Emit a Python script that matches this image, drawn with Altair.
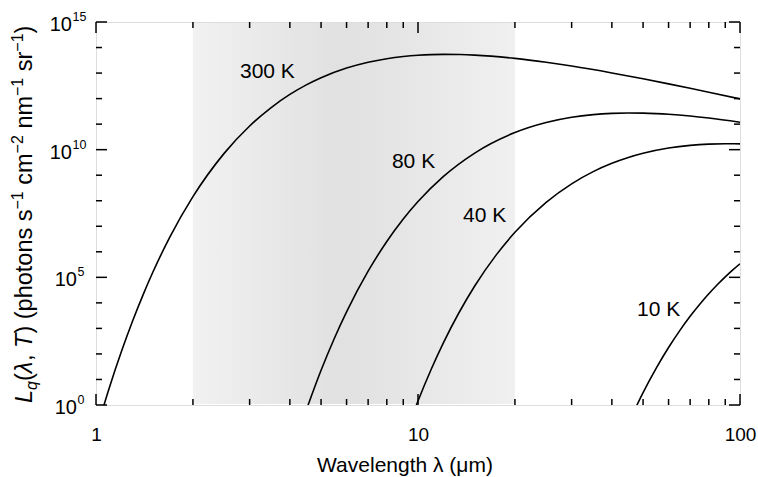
import altair as alt
import pandas as pd

W, H = 644, 383
FONT = "Liberation Sans"

# ---- curve values (wavelength in um, log10 of L_q) ----
wl_300 = [1.0, 1.1, 1.2, 1.3, 1.4, 1.5, 1.7, 2, 2.5, 3, 3.5, 4, 4.5, 5, 6, 7, 8, 9, 10,
          11, 12, 13.5, 15, 20, 25, 30, 40, 50, 60, 70, 80, 100]
lg_300 = [-1.05, 0.677, 2.103, 3.299, 4.315, 5.188, 6.604, 8.160, 9.855, 10.927, 11.651,
          12.163, 12.536, 12.816, 13.194, 13.423, 13.564, 13.649, 13.699, 13.724, 13.733,
          13.726, 13.704, 13.574, 13.422, 13.274, 13.005, 12.775, 12.577, 12.405, 12.252,
          11.989]
wl_80 = [4.5, 5, 5.5, 6, 7, 8, 9, 10, 12, 15, 20, 25, 30, 35, 40, 45, 50, 55, 60, 70, 80, 100]
lg_80 = [-0.193, 1.360, 2.615, 3.647, 5.240, 6.403, 7.282, 7.967, 8.952, 9.867, 10.669,
         11.062, 11.268, 11.373, 11.422, 11.438, 11.432, 11.413, 11.386, 11.317, 11.238,
         11.076]
wl_40 = [9, 10, 11, 12, 15, 17.5, 20, 25, 30, 35, 40, 45, 50, 60, 70, 80, 90, 100]
lg_40 = [-1.396, 0.156, 1.411, 2.443, 4.660, 5.879, 6.763, 7.937, 8.663, 9.139, 9.465,
         9.694, 9.858, 10.063, 10.169, 10.218, 10.233, 10.228]
wl_10 = [45, 50, 55, 60, 65, 70, 75, 80, 85, 90, 95, 100]
lg_10 = [-0.721, 0.485, 1.455, 2.251, 2.913, 3.472, 3.946, 4.355, 4.709, 5.018, 5.290, 5.529]

curve_names = ["300 K", "80 K", "40 K", "10 K"]
label_x = [2.8, 8.3, 13.8, 47.9]
label_y = [1.1e13, 3.3e9, 2.5e7, 5.2e3]

band = [2, 20]
x_major = [1, 10, 100]
x_minor = [2, 3, 4, 5, 6, 7, 8, 9, 20, 30, 40, 50, 60, 70, 80, 90]
y_major = [1, 1e5, 1e10, 1e15]
y_minor = [1e1, 1e2, 1e3, 1e4, 1e6, 1e7, 1e8, 1e9, 1e11, 1e12, 1e13, 1e14]
y_label_exp = ["0", "5", "10", "15"]

rows = []
for name, wl, lg in zip(curve_names, [wl_300, wl_80, wl_40, wl_10], [lg_300, lg_80, lg_40, lg_10]):
    for w, l in zip(wl, lg):
        rows.append({"T": name, "wl": w, "L": 10 ** l})
curves = pd.DataFrame(rows)
labels = pd.DataFrame({"T": curve_names, "lx": label_x, "ly": label_y})

xs = alt.Scale(type="log", domain=[1, 100], nice=False)
ys = alt.Scale(type="log", domain=[1, 1e15], nice=False)
xaxis = alt.Axis(values=x_major, format="d", ticks=False, domain=False, grid=False, title=None,
                 labelFontSize=19, labelFont=FONT, labelColor="black", labelPadding=20,
                 labelFlush=False)

layers = []

# shaded band
grad = alt.LinearGradient(
    gradient="linear",
    stops=[alt.GradientStop(color="#f1f1f1", offset=0),
           alt.GradientStop(color="#e1e1e1", offset=0.45),
           alt.GradientStop(color="#e4e4e4", offset=0.6),
           alt.GradientStop(color="#f0f0f0", offset=1)],
    x1=0, x2=1, y1=0, y2=0)
layers.append(alt.Chart(pd.DataFrame({"x0": [band[0]], "x1": [band[1]]})).mark_rect(fill=grad).encode(
    x=alt.X("x0:Q", scale=xs, axis=xaxis), x2="x1:Q",
    y=alt.value(1), y2=alt.value(H - 1)))

# curves
layers.append(alt.Chart(curves).mark_line(color="black", strokeWidth=1.6, interpolate="monotone", clip=True).encode(
    x=alt.X("wl:Q", scale=xs, axis=xaxis),
    y=alt.Y("L:Q", scale=ys, axis=None),
    detail="T:N"))

# curve labels
layers.append(alt.Chart(labels).mark_text(font=FONT, fontSize=21, align="left", baseline="middle", color="black").encode(
    x=alt.X("lx:Q", scale=xs, axis=xaxis),
    y=alt.Y("ly:Q", scale=ys, axis=None),
    text="T:N"))

# inward ticks on all four sides
def xticks(vals, ln):
    d = pd.DataFrame({"v": vals})
    b = alt.Chart(d).mark_rule(color="black", strokeWidth=1.5).encode(
        x=alt.X("v:Q", scale=xs, axis=xaxis), y=alt.value(H), y2=alt.value(H - ln))
    t = alt.Chart(d).mark_rule(color="black", strokeWidth=1.5).encode(
        x=alt.X("v:Q", scale=xs, axis=xaxis), y=alt.value(0), y2=alt.value(ln))
    return [b, t]

def yticks(vals, ln):
    d = pd.DataFrame({"v": vals})
    l = alt.Chart(d).mark_rule(color="black", strokeWidth=1.5).encode(
        y=alt.Y("v:Q", scale=ys, axis=None), x=alt.value(0), x2=alt.value(ln))
    r = alt.Chart(d).mark_rule(color="black", strokeWidth=1.5).encode(
        y=alt.Y("v:Q", scale=ys, axis=None), x=alt.value(W), x2=alt.value(W - ln))
    return [l, r]

layers += xticks(x_major, 11) + xticks(x_minor, 6) + yticks(y_major, 11) + yticks(y_minor, 6)

# y tick labels 10^n
ylab = pd.DataFrame({"v": y_major, "e": y_label_exp})
for cond, right in [("length(datum.e) == 2", -24), ("length(datum.e) == 1", -19)]:
    base = alt.Chart(ylab).transform_filter(cond)
    layers.append(base.mark_text(font=FONT, fontSize=20, align="right", baseline="middle", dy=3, color="black").encode(
        x=alt.value(right), y=alt.Y("v:Q", scale=ys, axis=None), text=alt.value("10")))
    layers.append(base.mark_text(font=FONT, fontSize=12.5, align="left", baseline="middle", dy=-5, color="black").encode(
        x=alt.value(right + 0.5), y=alt.Y("v:Q", scale=ys, axis=None), text="e:N"))

dummy = pd.DataFrame({"a": [0]})

# x axis title
layers.append(alt.Chart(dummy).mark_text(text="Wavelength λ (μm)", font=FONT, fontSize=21, align="center",
                                         baseline="middle", color="black").encode(
    x=alt.value(309), y=alt.value(444)))

# y axis title built from pieces (rotated)
F, S = 23.5, 16
EM = {" ": 0.278, "(": 0.333, ")": 0.333, ",": 0.278, "p": 0.556, "h": 0.556, "o": 0.556,
      "t": 0.278, "n": 0.556, "s": 0.5, "c": 0.5, "m": 0.833, "r": 0.333, "L": 0.556,
      "q": 0.556, "T": 0.611, "λ": 0.52, "−": 0.584, "1": 0.556, "2": 0.556}

def tw(t, size):
    return sum(EM.get(ch, 0.556) for ch in t) * size

pieces = [("L", F, "italic", 0), ("q", S, "italic", 5), ("(", F, "normal", 0),
          ("λ", F, "italic", 0), (", ", F, "normal", 0), ("T", F, "italic", 0),
          (") (photons s", F, "normal", 0), ("−1", S, "normal", -9), (" cm", F, "normal", 0),
          ("−2", S, "normal", -9), (" nm", F, "normal", 0), ("−1", S, "normal", -9),
          (" sr", F, "normal", 0), ("−1", S, "normal", -9), (")", F, "normal", 0)]
ypos = 403 - 22
bx = -64
for t, size, style, shift in pieces:
    lead = len(t) - len(t.lstrip(" "))
    ydraw = ypos - lead * EM[" "] * size
    layers.append(alt.Chart(dummy).mark_text(text=t.strip(), angle=270, align="left", baseline="alphabetic",
                                             font=FONT, fontSize=size, fontStyle=style, color="black").encode(
        x=alt.value(bx + shift), y=alt.value(ydraw)))
    ypos -= tw(t, size)

chart = alt.layer(*layers).properties(
    width=W, height=H,
    autosize=alt.AutoSizeParams(type="none"),
    padding={"left": 96, "top": 22, "right": 18, "bottom": 72},
).configure_view(stroke="black", strokeWidth=2).configure(background="white")

chart.save("out.html", embed_options={"renderer": "svg", "actions": False})
